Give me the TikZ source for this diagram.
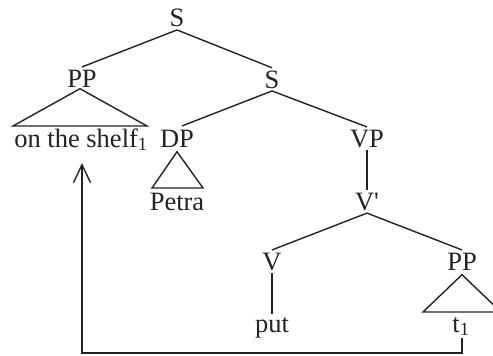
\documentclass[tikz,border=0pt]{standalone}
\usepackage{fontspec}
\setmainfont{Liberation Serif}
\usetikzlibrary{arrows.meta,calc}
\definecolor{ink}{RGB}{35,35,35}
\tikzset{
  lbl/.style={anchor=base,inner sep=2.5pt,text=ink,font=\fontsize{26.5}{30}\selectfont},
  branch/.style={draw=ink,line width=1.4pt},
  tri/.style={draw=ink,line width=1.4pt,line join=miter},
  move/.style={draw=ink,line width=1.4pt,-{Straight Barb[length=18pt,width=17pt,line width=1.4pt]}}
}
\begin{document}
\begin{tikzpicture}[x=1pt,y=-1pt]
\useasboundingbox (0,0) rectangle (493,356);
\clip (0,0) rectangle (493,356);
% labels
\node[lbl] (S1) at (177,27) {S};
\node[lbl] (PP1) at (82,87) {PP};
\node[lbl] (S2) at (272,88) {S};
\node[lbl] (shelf) at (81,147) {on the shelf\textsubscript{1}};
\node[lbl] (DP) at (177,147) {DP};
\node[lbl] (VP) at (367,147) {VP};
\node[lbl] (Petra) at (177,210) {Petra};
\node[lbl] (Vbar) at (367,210) {V\textquotesingle};
\node[lbl] (V) at (272,270) {V};
\node[lbl] (PP2) at (462,270) {PP};
\node[lbl] (put) at (272,332) {put};
\node[lbl] (t1) at (461,332) {t\textsubscript{1}};
% branches
\draw[branch] (S1.south) -- (PP1.north);
\draw[branch] (S1.south) -- (S2.north);
\draw[branch] (S2.south) -- ($(DP.north)+(5,-1)$);
\draw[branch] (S2.south) -- (VP.north);
\draw[branch] (VP.south) -- (Vbar.north);
\draw[branch] (Vbar.south) -- (V.north);
\draw[branch] (Vbar.south) -- (PP2.north);
\draw[branch] (V.south) -- (put.north);
% triangles
\draw[tri] ($(PP1.south)+(-2,-1)$) -- (13,126) -- (147,126) -- cycle;
\draw[tri] ($(DP.south)+(0,2)$) -- (152,188) -- (203,188) -- cycle;
\draw[tri] ($(PP2.south)+(0,2)$) -- (423,312) -- (501,312) -- cycle;
% movement arrow
\coordinate (corner) at (462,353);
\coordinate (tip) at (82,163);
\draw[move] (t1.south -| corner) -- (corner) -| (tip);
\end{tikzpicture}
\end{document}
